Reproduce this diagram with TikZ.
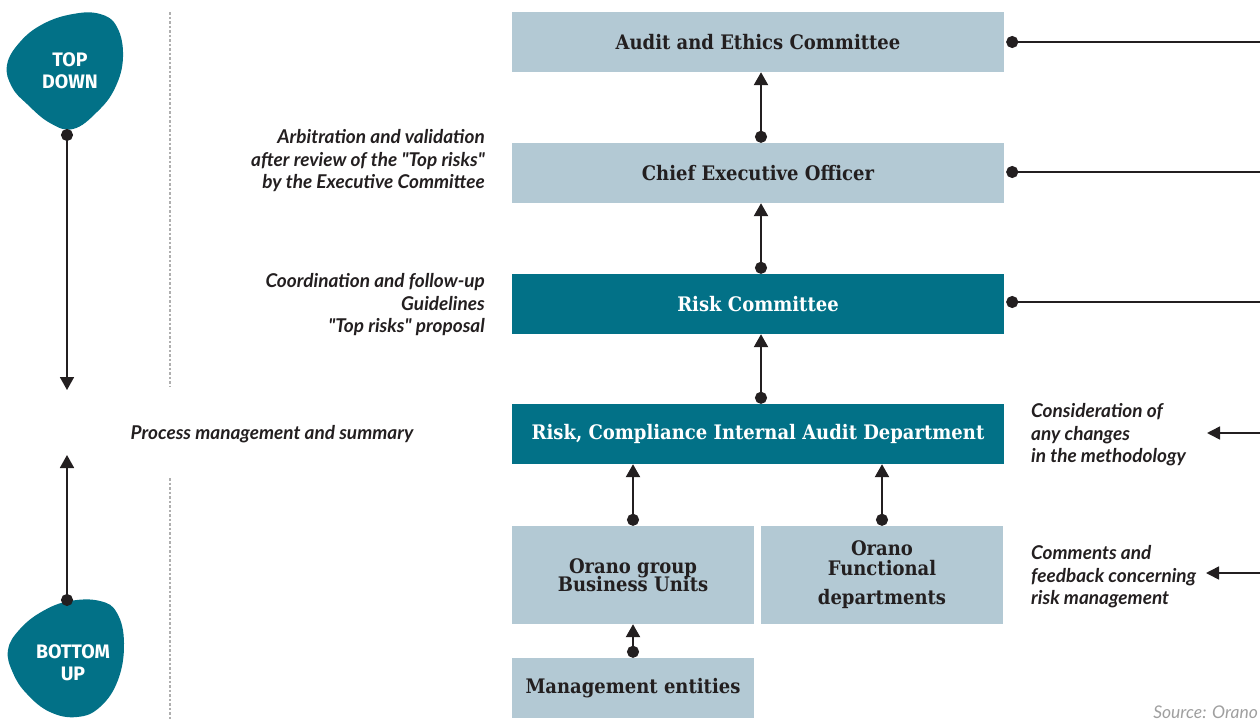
\documentclass[tikz,border=0pt]{standalone}
\usepackage{fontspec}
\setmainfont{Lato}
\newfontfamily\slab{DejaVu Serif}[FakeStretch=0.9]
\newfontfamily\blobfont{Fira Sans}
\usetikzlibrary{arrows.meta}
\definecolor{deepteal}{RGB}{2,113,135}
\definecolor{paleblue}{RGB}{179,201,212}
\definecolor{ink}{RGB}{35,31,32}
\definecolor{dotgray}{RGB}{175,175,175}
\begin{document}
\begin{tikzpicture}[x=1pt,y=-1pt,
  wide/.style={minimum width=492pt,minimum height=60pt,inner sep=0pt,font=\slab\bfseries\fontsize{20}{21}\selectfont},
  half/.style={minimum width=242pt,inner sep=0pt,font=\slab\bfseries\fontsize{20}{21}\selectfont,align=center},
  light/.style={fill=paleblue,text=ink},
  dark/.style={fill=deepteal,text=white},
  note/.style={font=\bfseries\itshape\fontsize{19}{22.5}\selectfont,text=ink,inner sep=0pt},
  link/.style={draw=ink,line width=2.4pt,{Circle[length=12pt,width=12pt]}-{Triangle[length=13pt,width=14pt]}},
  feed/.style={draw=ink,line width=2pt,{Circle[length=12pt,width=12pt]}-},
  incoming/.style={draw=ink,line width=1.6pt,-{Triangle[length=13pt,width=13pt]}},
  sep/.style={draw=dotgray,line width=2.5pt,dash pattern=on 2.5pt off 2pt},
  blobtext/.style={font=\blobfont\bfseries\fontsize{19.5}{22}\selectfont,text=white,align=center,inner sep=0pt}
]
\useasboundingbox (0,0) rectangle (1260,720);

% boxes
\node[wide,light] (aud) at (758,42) {Audit and Ethics Committee};
\node[wide,light] (ceo) at (758,173) {Chief Executive Officer};
\node[wide,dark] (rc) at (758,304) {Risk Committee};
\node[wide,dark] (rcia) at (758,434) {Risk, Compliance Internal Audit Department};
\node[half,light,minimum height=98pt] (bu) at (633,575) {Orano group\\[-3pt]Business Units};
\node[half,light,minimum height=98pt] (fd) at (882,575) {Orano\\[-1pt]Functional\\[8pt]departments};
\node[half,light,minimum height=60pt] (me) at (633,688) {Management entities};

% vertical connectors
\draw[link] ([xshift=3pt]ceo.north) -- ([xshift=3pt]aud.south);
\draw[link] ([xshift=3pt]rc.north) -- ([xshift=3pt]ceo.south);
\draw[link] ([xshift=3pt]rcia.north) -- ([xshift=3pt]rc.south);
\draw[link] (bu.north) -- (bu.north |- rcia.south);
\draw[link] (fd.north) -- (fd.north |- rcia.south);
\draw[link] (me.north) -- (bu.south);

% right side lines
\coordinate (r1) at (1260,42);
\coordinate (r2) at (1260,172);
\coordinate (r3) at (1260,302);
\draw[feed] ([xshift=2pt]aud.east |- r1) -- (r1);
\draw[feed] ([xshift=2pt]ceo.east |- r2) -- (r2);
\draw[feed] ([xshift=2pt]rc.east |- r3) -- (r3);

% right notes and incoming arrows
\node[note,anchor=west,align=left] (n3) at (1031,435) {Consideration of\\any changes\\in the methodology};
\node[note,anchor=west,align=left] (n4) at (1031,577) {Comments and\\feedback concerning\\risk management};
\coordinate (i1) at (1260,433);
\coordinate (i1e) at (1207,433);
\coordinate (i2) at (1260,573);
\coordinate (i2e) at (1206,573);
\draw[incoming] (i1) -- (i1e);
\draw[incoming] (i2) -- (i2e);

% left notes
\node[note,anchor=east,align=right] (n1) at (485,161) {Arbitration and validation\\after review of the \textquotedbl Top risks\textquotedbl\\by the Executive Committee};
\node[note,anchor=east,align=right] (n2) at (485,305) {Coordination and follow-up\\Guidelines\\\textquotedbl Top risks\textquotedbl{} proposal};
\node[note] (pm) at (272,434) {Process management and summary};

% separators
\coordinate (s1) at (170,12);
\coordinate (s2) at (170,387);
\coordinate (s3) at (170,478);
\coordinate (s4) at (170,720);
\draw[sep] (s1) -- (s2);
\draw[sep] (s3) -- (s4);

% blobs
\fill[deepteal] plot[smooth cycle,tension=0.7] coordinates {(7,65) (20,42) (43,24) (73,14) (100,14) (117,27) (123,57) (115,88) (97,112) (73,129) (50,123) (27,104) (12,87)};
\fill[deepteal] plot[smooth cycle,tension=0.7] coordinates {(8,650) (20,629) (43,611) (70,601) (100,601) (117,613) (124,643) (118,680) (100,707) (77,717) (50,712) (27,694) (13,673)};
\node[blobtext] (td) at (70,71) {TOP\\DOWN};
\node[blobtext] (bup) at (73,663) {BOTTOM\\UP};

% left flow arrows
\coordinate (a1) at (67,129);
\coordinate (a2) at (67,390);
\coordinate (b1) at (67,606);
\coordinate (b2) at (67,455);
\draw[link,line width=1.8pt] (a1) -- (a2);
\draw[link,line width=1.8pt] (b1) -- (b2);

% source
\node[font=\itshape\fontsize{17.5}{20}\selectfont,text=gray!75,anchor=east,inner sep=0pt] (src) at (1258,712) {Source: Orano};
\end{tikzpicture}
\end{document}
